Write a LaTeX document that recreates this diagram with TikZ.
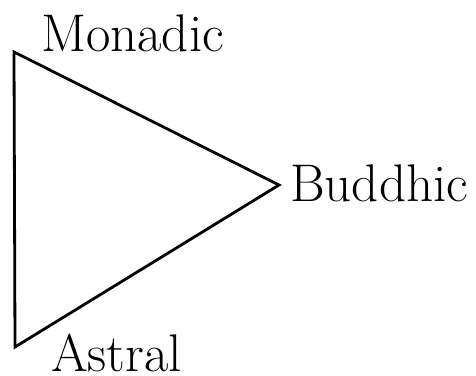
\documentclass[tikz,border=0pt]{standalone}
\usepackage{tikz}

\begin{document}
\begin{tikzpicture}[x=1pt, y=1pt, every node/.style={font=\fontsize{53}{64}\selectfont, inner sep=0pt}, side/.style={line width=2.8pt, line join=miter}]
	\useasboundingbox (0,0) rectangle (476,375);
	\coordinate (m) at (14,323);
	\coordinate (b) at (279,190);
	\coordinate (a) at (15,28);
	\node[anchor=base west] (monadic) at (41,323) {Monadic};
	\node[anchor=base west] (buddhic) at (290,173) {Buddhic};
	\node[anchor=base west] (astral) at (51,4) {Astral};
	\draw[side] (m) -- (b) -- (a) -- cycle;
\end{tikzpicture}
\end{document}
